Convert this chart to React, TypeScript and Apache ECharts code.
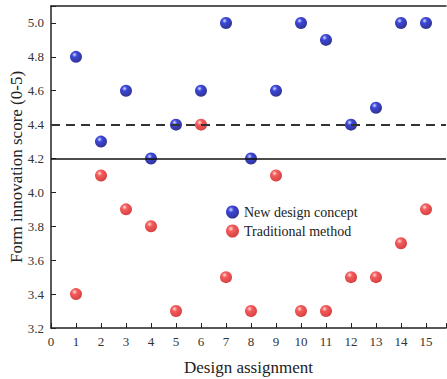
import React, { useEffect, useRef } from "react";
import * as echarts from "echarts";

const assignments = [1, 2, 3, 4, 5, 6, 7, 8, 9, 10, 11, 12, 13, 14, 15];
const newConcept = [4.8, 4.3, 4.6, 4.2, 4.4, 4.6, 5.0, 4.2, 4.6, 5.0, 4.9, 4.4, 4.5, 5.0, 5.0];
const traditional = [3.4, 4.1, 3.9, 3.8, 3.3, 4.4, 3.5, 3.3, 4.1, 3.3, 3.3, 3.5, 3.5, 3.7, 3.9];
const dashedRef = 4.4;
const solidRef = 4.2;

const font = "'Liberation Serif', 'Times New Roman', serif";

const ball = (light: string, mid: string, dark: string) => ({
  type: "radial",
  x: 0.38,
  y: 0.32,
  r: 0.72,
  colorStops: [
    { offset: 0, color: light },
    { offset: 0.3, color: mid },
    { offset: 1, color: dark },
  ],
});

export default function App() {
  const ref = useRef<HTMLDivElement>(null);
  useEffect(() => {
    if (!ref.current) return;
    const chart = echarts.init(ref.current, null, { renderer: "svg" });
    chart.setOption({
      animation: false,
      backgroundColor: "#fff",
      textStyle: { fontFamily: font },
      grid: {
        left: 51,
        top: 6,
        right: 1,
        bottom: 51,
        containLabel: false,
        outerBoundsMode: "none",
      },
      legend: {
        left: 221,
        top: 200,
        orient: "vertical",
        itemGap: 5,
        itemWidth: 13,
        itemHeight: 13,
        icon: "circle",
        textStyle: { fontFamily: font, fontSize: 14, color: "#222" },
        data: ["New design concept", "Traditional method"],
      },
      xAxis: [
        {
          type: "value",
          min: 0,
          max: 15.8,
          interval: 1,
          name: "Design assignment",
          nameLocation: "middle",
          nameGap: 31,
          nameMoveOverlap: false,
          nameTextStyle: { fontFamily: font, fontSize: 17, color: "#222" },
          axisLine: { show: true, onZero: false, lineStyle: { color: "#222", width: 1.5 } },
          axisTick: { show: true, inside: true, length: 5, lineStyle: { color: "#222" } },
          axisLabel: {
            fontFamily: font,
            fontSize: 13,
            color: "#333",
            margin: 7,
            formatter: (v: number) => (Number.isInteger(v) ? String(v) : ""),
          },
          splitLine: { show: false },
        },
        {
          type: "value",
          position: "top",
          min: 0,
          max: 15.8,
          axisLine: { show: true, onZero: false, lineStyle: { color: "#222", width: 1.5 } },
          axisTick: { show: false },
          axisLabel: { show: false },
          splitLine: { show: false },
        },
      ],
      yAxis: {
        type: "value",
        min: 3.2,
        max: 5.1,
        interval: 0.2,
        name: "Form innovation score (0-5)",
        nameLocation: "middle",
        nameGap: 26,
        nameMoveOverlap: false,
        nameTextStyle: { fontFamily: font, fontSize: 17, color: "#222" },
        axisLine: { show: true, onZero: false, lineStyle: { color: "#222", width: 1.5 } },
        axisTick: { show: true, inside: true, length: 5, lineStyle: { color: "#222" } },
        axisLabel: {
          fontFamily: font,
          fontSize: 13,
          color: "#333",
          margin: 7,
          formatter: (v: number) => (Math.abs(v - 5.1) < 1e-6 ? "" : v.toFixed(1)),
        },
        splitLine: { show: false },
      },
      series: [
        {
          name: "New design concept",
          type: "scatter",
          symbolSize: 12,
          data: assignments.map((a, i) => [a, newConcept[i]]),
          itemStyle: { color: ball("#c8d0ff", "#0a18d0", "#00006e") },
          markLine: {
            silent: true,
            symbol: "none",
            label: { show: false },
            data: [
              { yAxis: dashedRef, lineStyle: { type: [9, 6], color: "#333", width: 2 } },
              { yAxis: solidRef, lineStyle: { type: "solid", color: "#111", width: 1.5 } },
            ],
          },
          z: 3,
        },
        {
          name: "Traditional method",
          type: "scatter",
          symbolSize: 12,
          data: assignments.map((a, i) => [a, traditional[i]]),
          itemStyle: { color: ball("#ffd4d4", "#f23434", "#c80e0e") },
          z: 3,
        },
      ],
    });
    return () => chart.dispose();
  }, []);
  return (
    <div
      ref={ref}
      style={{ position: "fixed", left: 0, top: 0, width: 447, height: 379 }}
    />
  );
}
